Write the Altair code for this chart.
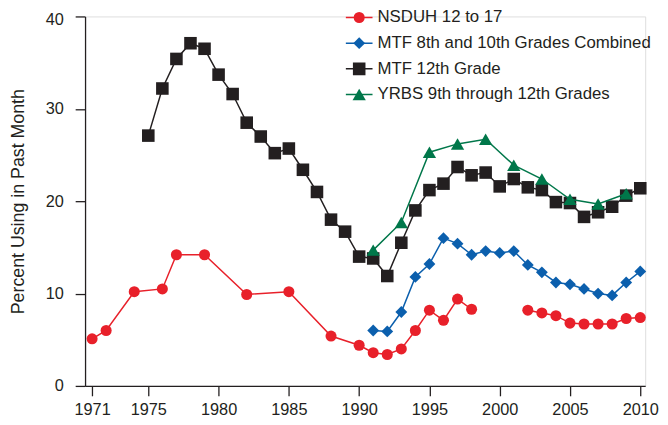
import altair as alt
import pandas as pd

# ---------------- data ----------------
series_names = [
    "NSDUH 12 to 17",
    "MTF 8th and 10th Grades Combined",
    "MTF 12th Grade",
    "YRBS 9th through 12th Grades",
]
series_colors = ["#e8202a", "#0b5fad", "#231f20", "#00774a"]
series_shapes = ["circle", "diamond", "square", "triangle-up"]
series_sizes = [125, 180, 144, 185]

nsduh_years = [1971, 1972, 1974, 1976, 1977, 1979, 1982, 1985, 1988, 1990, 1991,
               1992, 1993, 1994, 1995, 1996, 1997, 1998,
               2002, 2003, 2004, 2005, 2006, 2007, 2008, 2009, 2010]
nsduh_values = [5.1, 6.0, 10.2, 10.5, 14.2, 14.2, 9.9, 10.2, 5.4, 4.4, 3.6,
                3.4, 4.0, 6.0, 8.2, 7.1, 9.4, 8.3,
                8.2, 7.9, 7.6, 6.8, 6.7, 6.7, 6.7, 7.3, 7.4]
nsduh_new_survey_start = 2002

mtf810_years = [1991, 1992, 1993, 1994, 1995, 1996, 1997, 1998, 1999, 2000,
                2001, 2002, 2003, 2004, 2005, 2006, 2007, 2008, 2009, 2010]
mtf810_values = [6.0, 5.9, 8.0, 11.8, 13.2, 16.0, 15.4, 14.2, 14.6, 14.4,
                 14.6, 13.1, 12.3, 11.2, 11.0, 10.5, 10.0, 9.8, 11.2, 12.4]

mtf12_years = [1975, 1976, 1977, 1978, 1979, 1980, 1981, 1982, 1983, 1984,
               1985, 1986, 1987, 1988, 1989, 1990, 1991, 1992, 1993, 1994,
               1995, 1996, 1997, 1998, 1999, 2000, 2001, 2002, 2003, 2004,
               2005, 2006, 2007, 2008, 2009, 2010]
mtf12_values = [27.1, 32.2, 35.4, 37.1, 36.5, 33.7, 31.6, 28.5, 27.0, 25.2,
                25.7, 23.4, 21.0, 18.0, 16.7, 14.0, 13.8, 11.9, 15.5, 19.0,
                21.2, 21.9, 23.7, 22.8, 23.1, 21.6, 22.4, 21.5, 21.2, 19.9,
                19.8, 18.3, 18.8, 19.4, 20.6, 21.4]

yrbs_years = [1991, 1993, 1995, 1997, 1999, 2001, 2003, 2005, 2007, 2009]
yrbs_values = [14.7, 17.7, 25.3, 26.2, 26.7, 23.9, 22.4, 20.2, 19.7, 20.8]

x_ticks = [1971, 1975, 1980, 1985, 1990, 1995, 2000, 2005, 2010]
y_ticks = [0, 10, 20, 30, 40]

# ---------------- table ----------------
rows = []
for y, v in zip(nsduh_years, nsduh_values):
    rows.append({"year": y, "value": v, "series": series_names[0],
                 "seg": "old" if y < nsduh_new_survey_start else "new"})
for y, v in zip(mtf810_years, mtf810_values):
    rows.append({"year": y, "value": v, "series": series_names[1], "seg": "all"})
for y, v in zip(mtf12_years, mtf12_values):
    rows.append({"year": y, "value": v, "series": series_names[2], "seg": "all"})
for y, v in zip(yrbs_years, yrbs_values):
    rows.append({"year": y, "value": v, "series": series_names[3], "seg": "all"})
df = pd.DataFrame(rows)
# separate key for the marker legend (distinct domain so it is not merged)
marker_names = ["pt " + s for s in series_names]
df["marker"] = "pt " + df["series"]

INK = "#231f20"
FONT = "Liberation Sans"
LEG_X = 263
LEG_Y = -11.75
ROW_H = 25.6

x_enc = alt.X(
    "year:Q",
    scale=alt.Scale(domain=[1970.5, 2010.35], nice=False, zero=False),
    axis=alt.Axis(values=x_ticks, format="d", title=None, grid=False,
                  tickSize=10, labelPadding=6, labelFontSize=16.5,
                  labelFont=FONT, labelColor=INK, tickColor=INK,
                  domainColor=INK, tickWidth=1.3, domainWidth=1.3,
                  labelFlush=False, labelOverlap=False),
)
y_enc = alt.Y(
    "value:Q",
    scale=alt.Scale(domain=[0, 40], nice=False),
    axis=alt.Axis(values=y_ticks, title="Percent Using in Past Month",
                  grid=False, tickSize=10, labelPadding=12,
                  labelFontSize=16.5, labelFont=FONT, labelColor=INK,
                  tickColor=INK, domainColor=INK, tickWidth=1.3,
                  domainWidth=1.3, titleFont=FONT, titleFontSize=18,
                  titleFontWeight="normal", titleColor=INK, titlePadding=18,
                  labelOffset={"condition": {"test": "datum.value == 40", "value": 3.5}, "value": 0}),
)

# legend of the lines (labels + line symbols)
line_legend = alt.Legend(
    title=None, orient="none", legendX=LEG_X, legendY=LEG_Y,
    padding=0, clipHeight=ROW_H, rowPadding=0, labelOffset=4,
    labelFontSize=17, labelFont=FONT, labelColor=INK, labelLimit=500,
    symbolType="stroke", symbolSize=729, symbolStrokeWidth=1.5,
)
# legend of the markers (drawn over the line symbols, no labels)
marker_legend = alt.Legend(
    title=None, orient="none", legendX=LEG_X + 6.25, legendY=LEG_Y,
    padding=0, clipHeight=ROW_H, rowPadding=0, labelOffset=6,
    labelFontSize=16.5, labelFont=FONT, labelExpr="''", labelLimit=500,
    symbolStrokeWidth=0, symbolOpacity=1,
)

color_enc = alt.Color("series:N", scale=alt.Scale(domain=series_names, range=series_colors),
                      legend=line_legend)
fill_enc = alt.Fill("marker:N", scale=alt.Scale(domain=marker_names, range=series_colors),
                    legend=marker_legend)
shape_enc = alt.Shape("marker:N", scale=alt.Scale(domain=marker_names, range=series_shapes),
                      legend=marker_legend)
size_enc = alt.Size("marker:N", scale=alt.Scale(domain=marker_names, range=series_sizes),
                    legend=marker_legend)

base = alt.Chart(df)
layers = []
for name in series_names:
    sub = base.transform_filter(alt.datum.series == name)
    layers.append(sub.mark_line(strokeWidth=1.5).encode(
        x=x_enc, y=y_enc, color=color_enc, detail="seg:N"))
    layers.append(sub.mark_point(filled=True, opacity=1, strokeWidth=0).encode(
        x=x_enc, y=y_enc, fill=fill_enc, shape=shape_enc, size=size_enc))

chart = alt.layer(*layers).properties(
    width=567, height=374, autosize="none",
    padding={"left": 78, "top": 6, "right": 15, "bottom": 36},
).configure_view(stroke=None).configure(background="white")

chart.save("out.html", embed_options={"renderer": "svg", "actions": False})
